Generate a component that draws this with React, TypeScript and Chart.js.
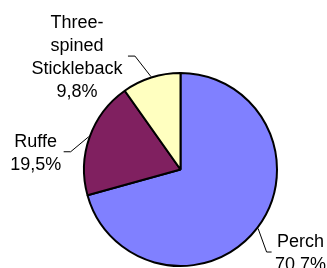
import React, { useEffect, useRef } from "react";
import { Chart, registerables } from "chart.js";

Chart.register(...registerables);

const categories = ["Perch", "Ruffe", "Three-spined Stickleback"];
const labelLines = [["Perch"], ["Ruffe"], ["Three-", "spined", "Stickleback"]];
const values = [70.7, 19.5, 9.8];
const colors = ["#8080FF", "#802060", "#FFFFC0"];

// label layout: elbow offset from slice edge, horizontal tail length, text centre offset from tail end
const labelLayout = [
  { elbow: [8.5, 23.5], tail: 5, textDx: 29 },
  { elbow: [-18, 15], tail: -7, textDx: -28 },
  { elbow: [-16, -20.5], tail: -7, textDx: -51 },
];

const fmt = (v: number) => v.toFixed(1).replace(".", ",") + "%";

const labelPlugin = {
  id: "pieLabels",
  afterDatasetsDraw(chart: any) {
    const ctx = chart.ctx;
    const meta = chart.getDatasetMeta(0);
    ctx.save();
    ctx.font = "18px 'Liberation Sans', Arial, sans-serif";
    ctx.fillStyle = "#000";
    ctx.strokeStyle = "#000";
    ctx.lineWidth = 1;
    ctx.textAlign = "center";
    ctx.textBaseline = "alphabetic";
    const lineH = 23;
    meta.data.forEach((arc: any, i: number) => {
      const { x, y, startAngle, endAngle, outerRadius } = arc.getProps(
        ["x", "y", "startAngle", "endAngle", "outerRadius"],
        true
      );
      const mid = (startAngle + endAngle) / 2;
      const ex = x + Math.cos(mid) * (outerRadius + 1);
      const ey = y + Math.sin(mid) * (outerRadius + 1);
      const L = labelLayout[i];
      const bx = ex + L.elbow[0];
      const by = ey + L.elbow[1];
      const tx = bx + L.tail;
      ctx.beginPath();
      ctx.moveTo(ex, ey);
      ctx.lineTo(bx, by);
      ctx.lineTo(tx, by);
      ctx.stroke();
      const lines = [...labelLines[i], fmt(values[i])];
      const cx = tx + L.textDx;
      const top = by - ((lines.length - 1) * lineH) / 2;
      lines.forEach((t, k) => {
        ctx.fillText(t, cx, top + k * lineH + 6.5);
      });
    });
    ctx.restore();
  },
};

export default function App() {
  const ref = useRef<HTMLCanvasElement | null>(null);
  useEffect(() => {
    if (!ref.current) return;
    const chart = new Chart(ref.current, {
      type: "pie",
      data: {
        labels: categories,
        datasets: [
          {
            data: values,
            backgroundColor: colors,
            borderColor: "#000",
            borderWidth: 2,
          },
        ],
      },
      options: {
        responsive: false,
        animation: false,
        devicePixelRatio: 1,
        layout: { padding: { left: 83, top: 72, right: 49, bottom: 1 } },
        plugins: {
          legend: { display: false },
          tooltip: { enabled: false },
        },
      },
      plugins: [labelPlugin],
    });
    return () => chart.destroy();
  }, []);
  return (
    <div style={{ position: "fixed", left: 0, top: 0, width: 327, height: 268, background: "#fff" }}>
      <canvas ref={ref} width={327} height={268} style={{ display: "block" }} />
    </div>
  );
}
